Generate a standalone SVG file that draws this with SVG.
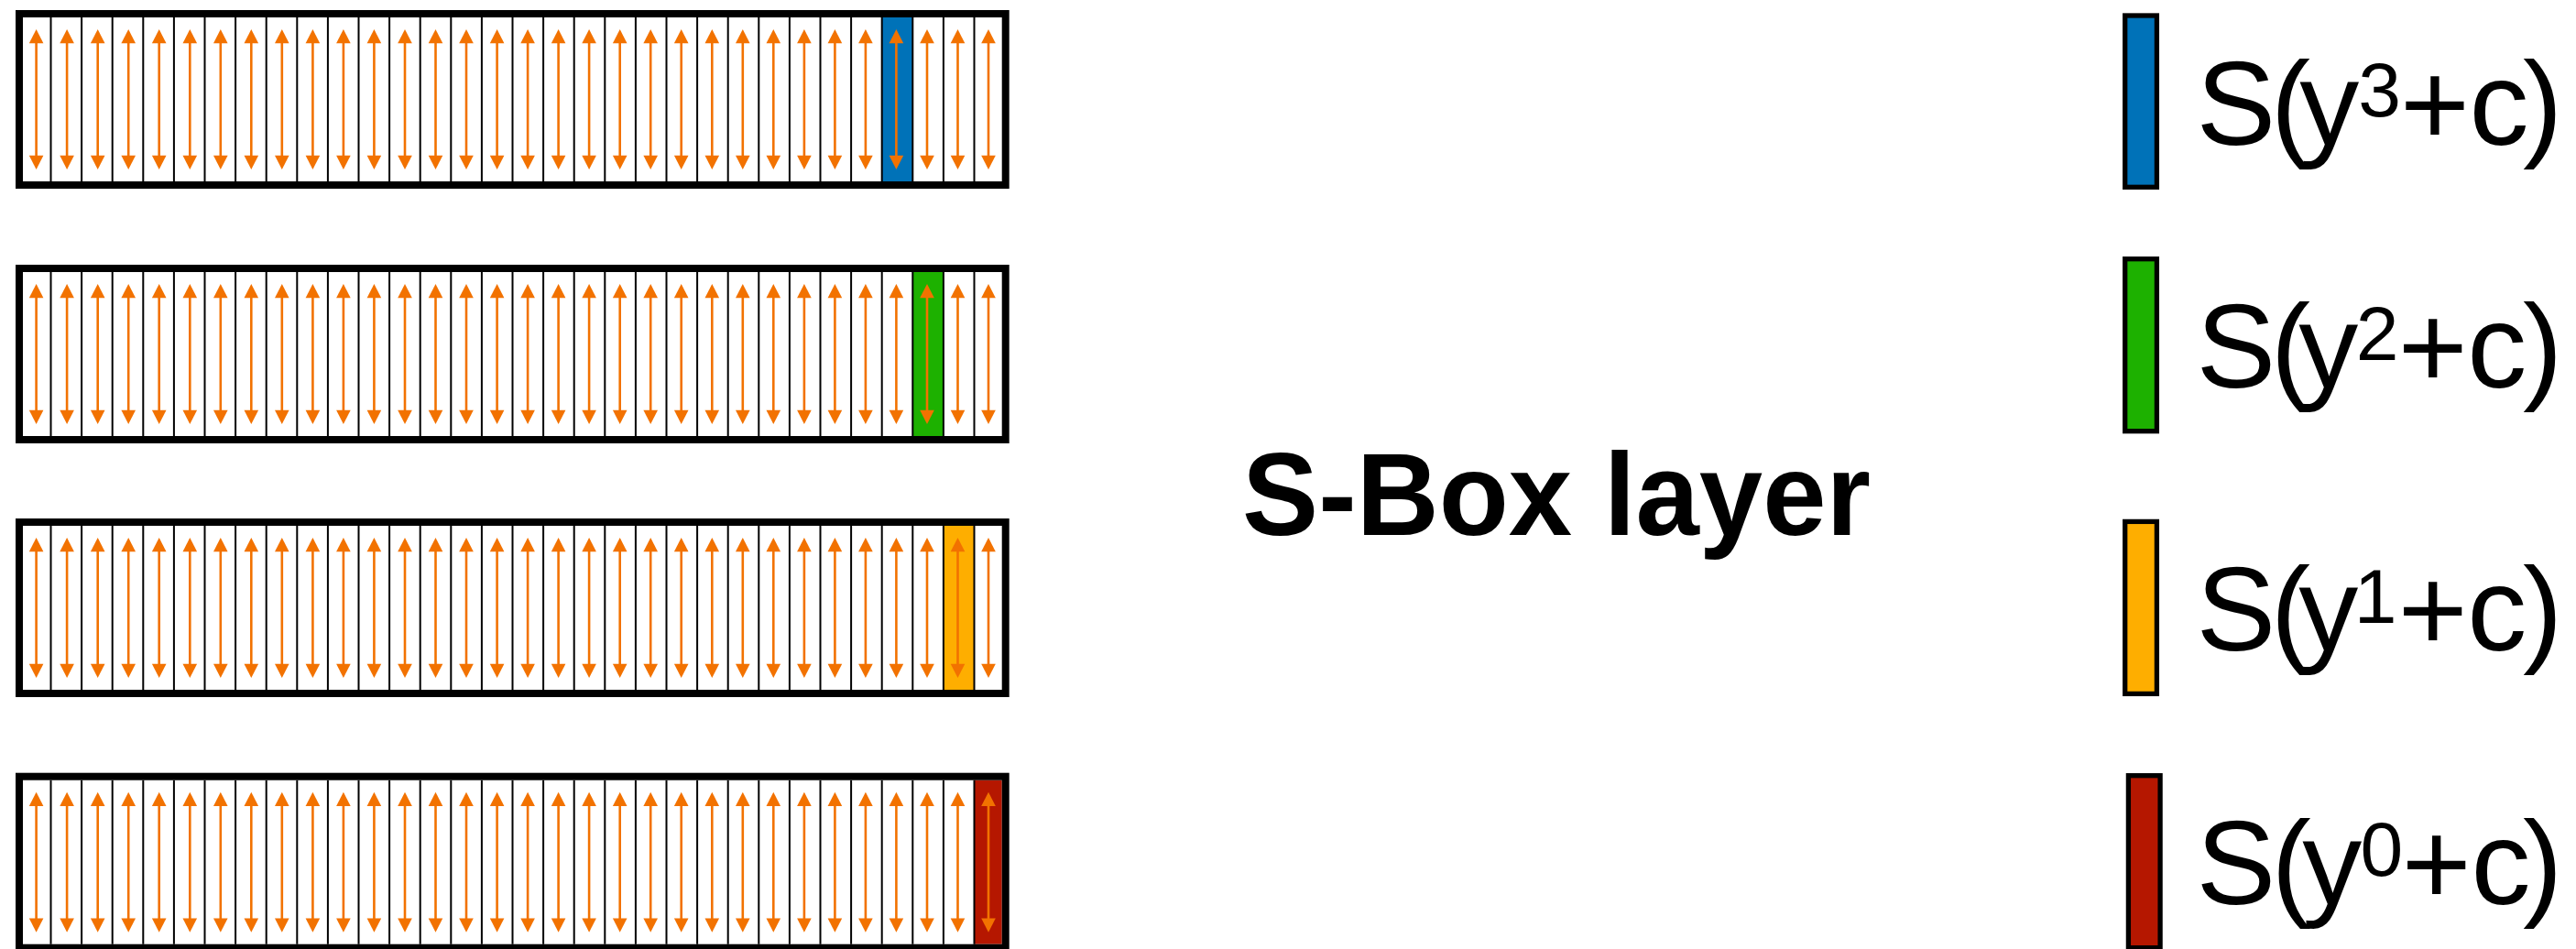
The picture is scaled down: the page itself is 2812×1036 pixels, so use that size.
<svg xmlns="http://www.w3.org/2000/svg" xmlns:xlink="http://www.w3.org/1999/xlink" width="2812" height="1036" viewBox="0 0 2812 1036">
  <style>
    .bg { fill: #ffffff; }
    .frame { fill: none; stroke: #000000; stroke-width: 8; }
    .div { fill: none; stroke: #000000; stroke-width: 2; }
    .arr-line { stroke: #F27200; stroke-width: 2.6; }
    .arr-head { fill: #F27200; }
    .key { stroke: #000000; stroke-width: 5.3; }
    .blue { fill: #0072B8; }
    .green { fill: #1DB100; }
    .yellow { fill: #FEAE00; }
    .red { fill: #B51700; }
    .lbl { font-family: "Liberation Sans", Arial, Helvetica, sans-serif; font-size: 130px; fill: #000000; }
    .sup { font-family: "Liberation Sans", Arial, Helvetica, sans-serif; font-size: 84px; fill: #000000; }
    .title { font-family: "Liberation Sans", Arial, Helvetica, sans-serif; font-size: 128px; font-weight: bold; fill: #000000; }
  </style>
  <defs>
    <!-- bidirectional arrow, top tip at (0,0) -->
    <g id="arrow">
      <line class="arr-line" x1="0" y1="14" x2="0" y2="139"/>
      <polygon class="arr-head" points="0,0 -7.8,15.3 7.8,15.3"/>
      <polygon class="arr-head" points="0,153 -7.8,137.7 7.8,137.7"/>
    </g>
    <!-- 32-cell strip: dividers plus one arrow per cell, origin at outer top-left of the row -->
    <g id="strip">
      <path class="div" d="M55.5 8V187M89.1 8V187M122.7 8V187M156.3 8V187M189.9 8V187M223.5 8V187M257.1 8V187M290.7 8V187M324.3 8V187M357.9 8V187M391.5 8V187M425.1 8V187M458.7 8V187M492.3 8V187M525.9 8V187M559.5 8V187M593.1 8V187M626.7 8V187M660.3 8V187M693.9 8V187M727.5 8V187M761.1 8V187M794.7 8V187M828.3 8V187M861.9 8V187M895.5 8V187M929.1 8V187M962.7 8V187M996.3 8V187M1029.9 8V187M1063.5 8V187"/>
      <use href="#arrow" x="39.6" y="21"/>
      <use href="#arrow" x="73.1" y="21"/>
      <use href="#arrow" x="106.7" y="21"/>
      <use href="#arrow" x="140.2" y="21"/>
      <use href="#arrow" x="173.7" y="21"/>
      <use href="#arrow" x="207.3" y="21"/>
      <use href="#arrow" x="240.8" y="21"/>
      <use href="#arrow" x="274.3" y="21"/>
      <use href="#arrow" x="307.8" y="21"/>
      <use href="#arrow" x="341.4" y="21"/>
      <use href="#arrow" x="374.9" y="21"/>
      <use href="#arrow" x="408.4" y="21"/>
      <use href="#arrow" x="442.0" y="21"/>
      <use href="#arrow" x="475.5" y="21"/>
      <use href="#arrow" x="509.0" y="21"/>
      <use href="#arrow" x="542.6" y="21"/>
      <use href="#arrow" x="576.1" y="21"/>
      <use href="#arrow" x="609.6" y="21"/>
      <use href="#arrow" x="643.1" y="21"/>
      <use href="#arrow" x="676.7" y="21"/>
      <use href="#arrow" x="710.2" y="21"/>
      <use href="#arrow" x="743.7" y="21"/>
      <use href="#arrow" x="777.3" y="21"/>
      <use href="#arrow" x="810.8" y="21"/>
      <use href="#arrow" x="844.3" y="21"/>
      <use href="#arrow" x="877.9" y="21"/>
      <use href="#arrow" x="911.4" y="21"/>
      <use href="#arrow" x="944.9" y="21"/>
      <use href="#arrow" x="978.4" y="21"/>
      <use href="#arrow" x="1012.0" y="21"/>
      <use href="#arrow" x="1045.5" y="21"/>
      <use href="#arrow" x="1079.0" y="21"/>
    </g>
  </defs>

  <rect x="0" y="0" width="2812" height="1036" fill="#ffffff"/>

  <!-- state rows -->
  <g id="row-3">
    <rect class="bg" x="25" y="19" width="1068.7" height="179"/>
    <rect class="blue" x="962.7" y="19" width="33.6" height="179"/>
    <use href="#strip" x="0" y="11"/>
    <rect class="frame" x="21" y="15" width="1076.7" height="187"/>
  </g>
  <g id="row-2">
    <rect class="bg" x="25" y="297" width="1068.7" height="179"/>
    <rect class="green" x="996.3" y="297" width="33.6" height="179"/>
    <use href="#strip" x="0" y="289"/>
    <rect class="frame" x="21" y="293" width="1076.7" height="187"/>
  </g>
  <g id="row-1">
    <rect class="bg" x="25" y="574" width="1068.7" height="179"/>
    <rect class="yellow" x="1029.9" y="574" width="33.6" height="179"/>
    <use href="#strip" x="0" y="566"/>
    <rect class="frame" x="21" y="570" width="1076.7" height="187"/>
  </g>
  <g id="row-0">
    <rect class="bg" x="25" y="851.7" width="1068.7" height="179"/>
    <rect class="red" x="1063.5" y="851.7" width="30.2" height="179"/>
    <use href="#strip" x="0" y="843.7"/>
    <rect class="frame" x="21" y="847.7" width="1076.7" height="187"/>
  </g>

  <!-- layer title -->
  <g id="title">
    <text class="title" x="1356" y="584" textLength="686" lengthAdjust="spacingAndGlyphs">S-Box layer</text>
  </g>

  <!-- legend -->
  <g id="key-3">
    <rect class="key blue" x="2319.7" y="17" width="34.7" height="187.3"/>
    <text class="lbl" x="2397.4 2478.8 2510.2" y="158">S(y</text>
    <text class="sup" x="2574.2" y="126.5">3</text>
    <text class="lbl" x="2620.1 2695.6 2754" y="158">+c)</text>
  </g>
  <g id="key-2">
    <rect class="key green" x="2319.7" y="282.7" width="34.7" height="188"/>
    <text class="lbl" x="2397.4 2478.8 2509.2" y="422.5">S(y</text>
    <text class="sup" x="2571.8" y="393.3">2</text>
    <text class="lbl" x="2617.8 2693.2 2754" y="422.5">+c)</text>
  </g>
  <g id="key-1">
    <rect class="key yellow" x="2319.7" y="569.4" width="34.7" height="188"/>
    <text class="lbl" x="2397.4 2478.8 2509.2" y="710">S(y</text>
    <text class="sup" x="2569.8" y="680">1</text>
    <text class="lbl" x="2617.8 2693.2 2754" y="710">+c)</text>
  </g>
  <g id="key-0">
    <rect class="key red" x="2323.4" y="846.7" width="34.7" height="188"/>
    <text class="lbl" x="2397.4 2479.4 2513.2" y="987">S(y</text>
    <text class="sup" x="2576.5" y="956">0</text>
    <text class="lbl" x="2621.8 2697.6 2754" y="987">+c)</text>
  </g>
</svg>
